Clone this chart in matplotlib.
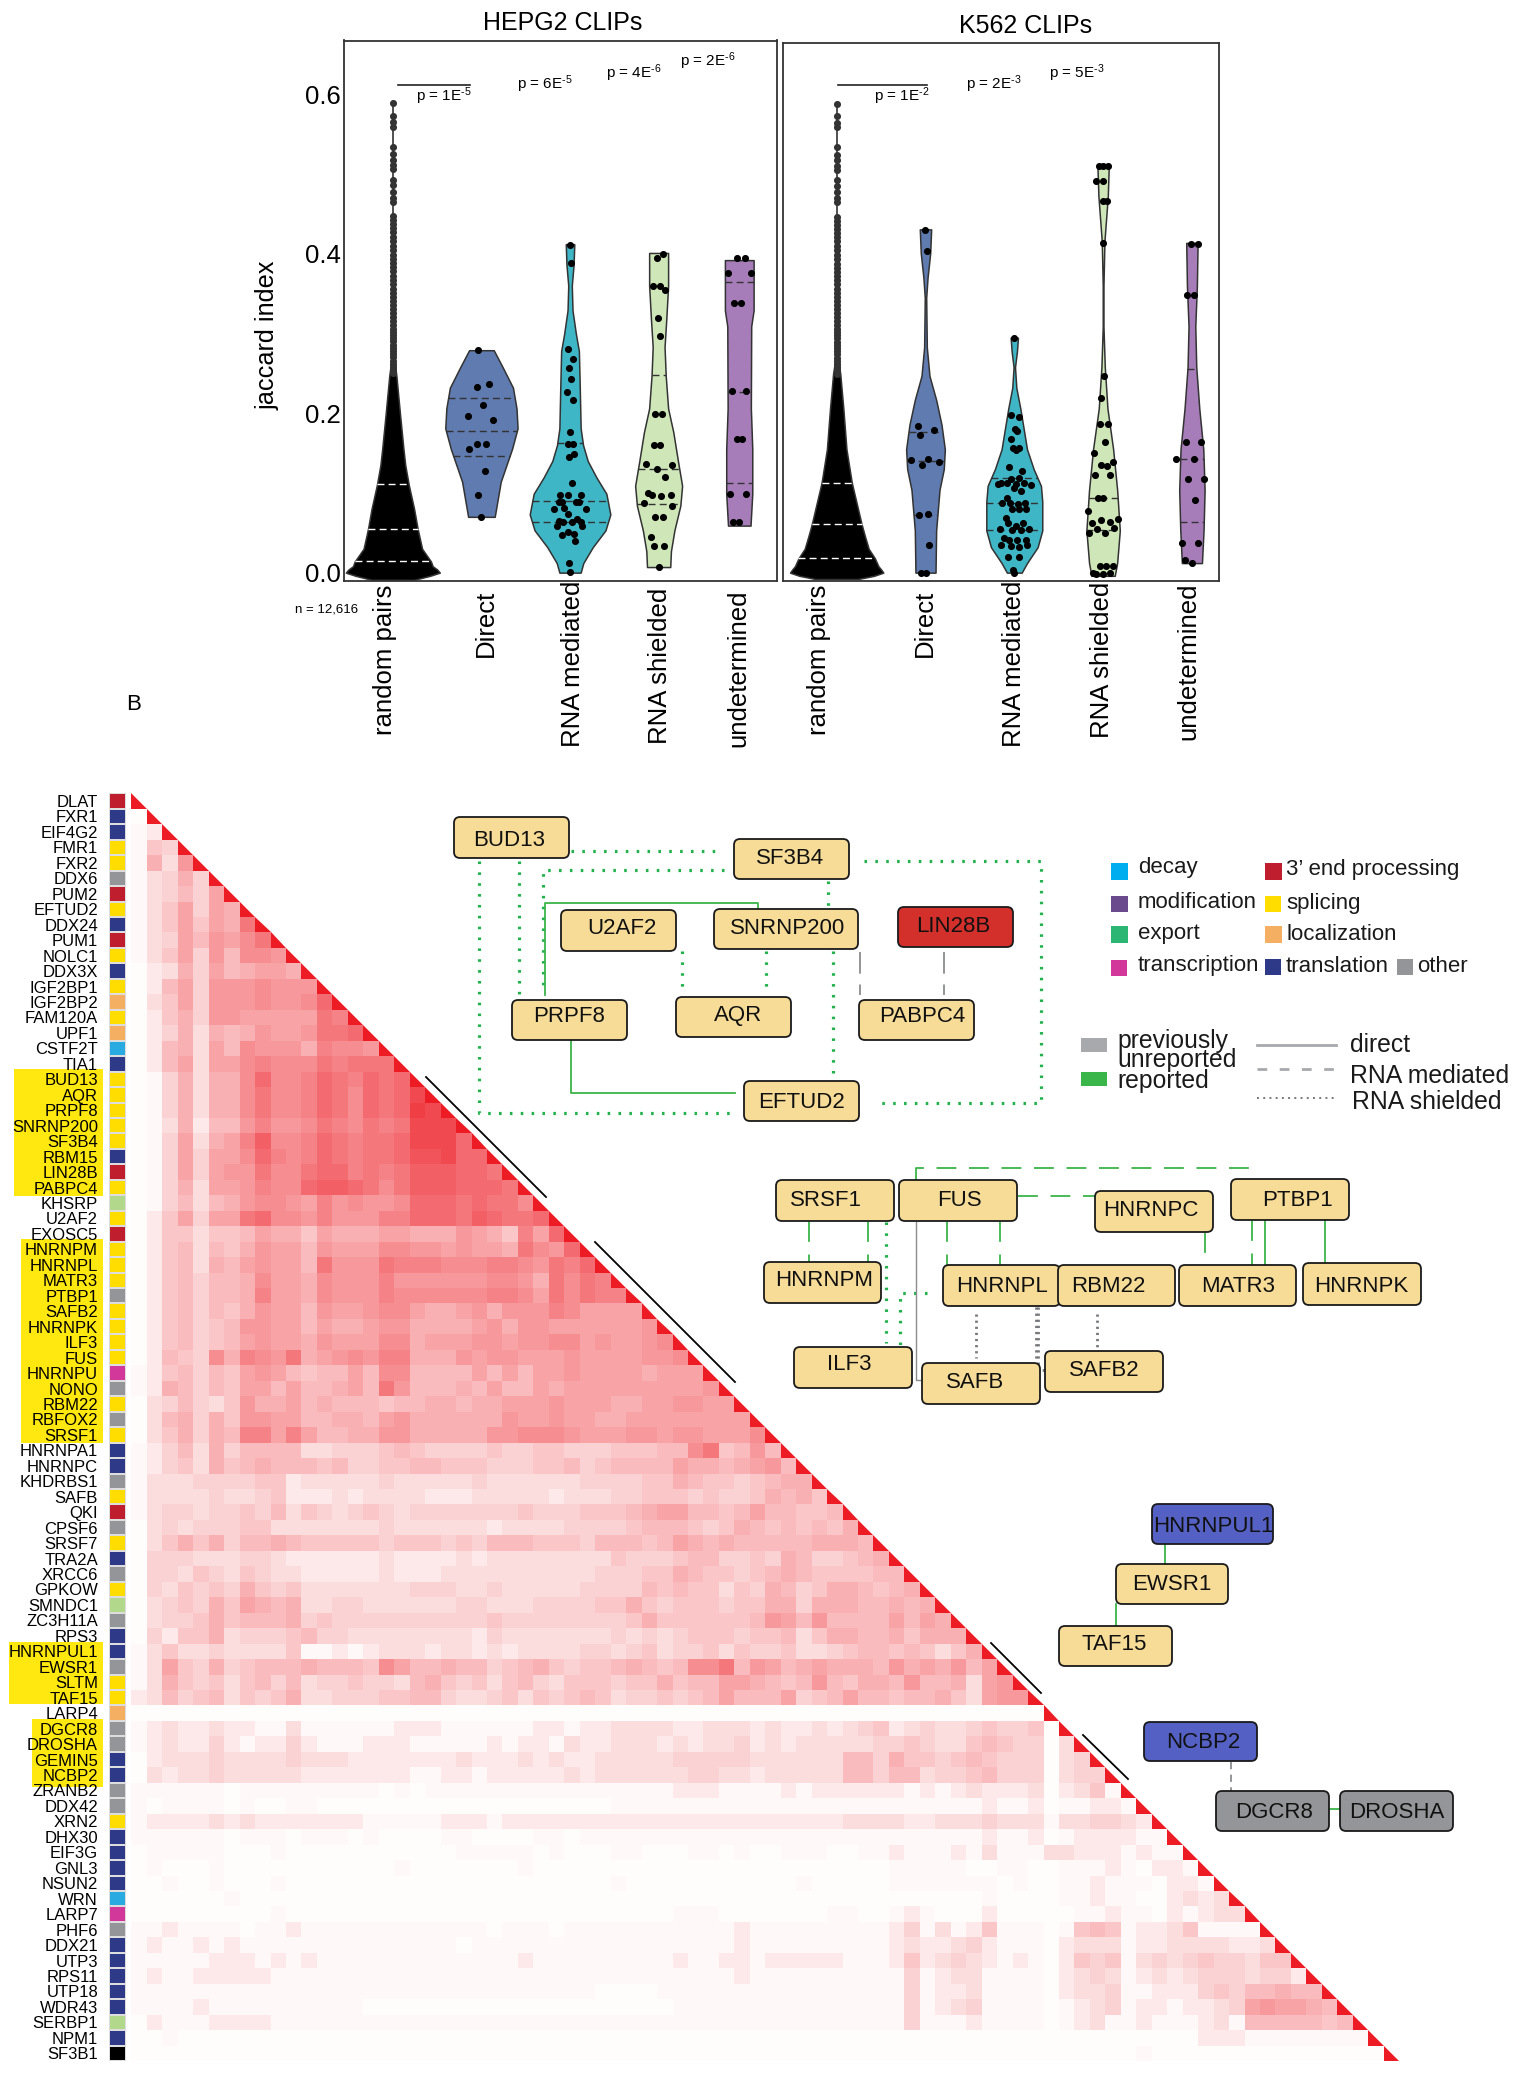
import numpy as np
import matplotlib
matplotlib.use('Agg')
import matplotlib.pyplot as plt
from matplotlib.colors import LinearSegmentedColormap, ListedColormap
from matplotlib.patches import FancyBboxPatch, Polygon, Rectangle

plt.rcParams['font.family'] = ['Liberation Sans', 'DejaVu Sans']
plt.rcParams['mathtext.default'] = 'regular'

W, H = 1525, 2100

# ---- violins: outline (y, half width), quartiles, points ----
cats = ['random pairs', 'Direct', 'RNA mediated', 'RNA shielded', 'undetermined']

rand_tail = [.589, .573, .565, .559, .534, .525, .518, .511, .506, .493, .486, .478, .470, .465,
             .447, .442, .437, .432, .427, .421, .416, .410, .405, .399, .394, .388, .383, .378,
             .372, .367, .362, .356, .351, .346, .341, .336, .331, .326, .321, .316, .311, .306,
             .302, .298, .294, .290, .286, .282, .278, .274, .270, .266, .262, .258, .254, .250]

hep_rand_y = [-.009, -.004, 0, .004, .008, .014, .03, .045, .055, .08, .09, .11, .135, .155, .2, .247, .27]
hep_rand_w = [.24, .42, .53, .50, .45, .43, .33, .30, .28, .24, .22, .18, .14, .12, .08, .04, .012]
hep_rand_q = [.015, .055, .111]

hep_dir_y = [.279, .258, .232, .206, .181, .155, .146, .114, .07]
hep_dir_w = [.139, .238, .356, .396, .408, .345, .317, .218, .15]
hep_dir_q = [.219, .178, .146]
hep_dir_px = [-.04, -.05, .09, .02, -.15, .127, -.048, .05, -.143, .044, -.04, 0]
hep_dir_py = [.279, .233, .236, .210, .197, .192, .161, .161, .155, .127, .097, .070]

hep_med_y = [.412, .386, .36, .329, .299, .278, .232, .181, .16, .14, .119, .099, .073, .053, .032, .012, 0]
hep_med_w = [.048, .04, .02, .028, .067, .10, .11, .12, .147, .2, .3, .41, .455, .4, .257, .15, .12]
hep_med_q = [.162, .09, .064]
hep_med_px = [0, .01, -.02, .03, -.016, .008, -.03, .036, 0, -.028, .032, .04, -.008, .02, -.115, -.02, .123,
              -.119, -.087, .063, .103, -.178, -.067, .178, -.028, -.127, -.075, .024, .083, .119, -.147,
              .139, -.028, -.091, .04, .051, -.012, .004]
hep_med_py = [.411, .388, .280, .268, .257, .243, .227, .217, .176, .161, .161, .149, .145, .113, .097, .097,
              .097, .089, .088, .089, .089, .080, .081, .080, .073, .065, .064, .064, .067, .063, .058, .058,
              .051, .047, .049, .040, .012, .001]

hep_shi_y = [.401, .36, .319, .283, .247, .206, .176, .14, .109, .084, .053, .027, .007]
hep_shi_w = [.107, .107, .087, .067, .08, .107, .166, .218, .265, .245, .178, .139, .131]
hep_shi_q = [.248, .13, .086]
hep_shi_px = [.051, -.016, -.067, .02, .075, -.008, .02, -.04, .04, -.051, .012, -.143, .147, -.016, .075,
              -.119, -.071, .032, .135, -.162, .15, -.04, .051, -.087, -.048, .059, .004]
hep_shi_py = [.400, .395, .359, .359, .355, .319, .297, .199, .199, .160, .160, .136, .135, .130, .120, .100,
              .097, .096, .097, .087, .084, .070, .070, .045, .033, .033, .007]

hep_und_y = [.392, .329, .309, .206, .155, .099, .059]
hep_und_w = [.162, .162, .135, .131, .147, .147, .127]
hep_und_q = [.365, .227, .113]
hep_und_px = [-.02, .067, -.127, .131, -.059, .016, -.087, .075, -.028, .032, -.107, .071, -.067, 0]
hep_und_py = [.395, .395, .376, .376, .338, .338, .228, .228, .168, .168, .099, .099, .063, .063]

k_rand_y = [-.008, -.004, 0, .004, .008, .018, .03, .045, .061, .08, .113, .155, .206, .25, .27]
k_rand_w = [.24, .42, .525, .50, .47, .43, .36, .32, .28, .24, .17, .11, .075, .04, .012]
k_rand_q = [.018, .061, .113]

k_dir_y = [.431, .401, .37, .345, .283, .247, .217, .186, .155, .13, .104, .053, 0]
k_dir_w = [.064, .053, .023, .008, .015, .045, .12, .18, .218, .206, .158, .12, .113]
k_dir_q = [.177, .14, .072]
k_dir_px = [0, .019, -.083, .098, -.06, -.165, .026, .15, -.041, -.068, .03, .041, -.049, .004]
k_dir_py = [.430, .404, .184, .179, .173, .142, .143, .139, .135, .072, .074, .035, 0, 0]

k_med_y = [.295, .278, .258, .232, .206, .181, .155, .13, .109, .089, .053, .032, .012, 0]
k_med_w = [.041, .03, .008, .023, .068, .105, .143, .218, .3, .315, .315, .263, .143, .083]
k_med_q = [.119, .087, .053]
k_med_px = [0, -.041, .053, .008, .034, -.038, -.019, .053, .019, -.060, .090, -.188, -.154, -.086, -.034, .053,
            .109, .191, .015, -.004, .079, -.086, -.135, -.049, .041, .116, -.023, .053, .135, -.094, -.068,
            .015, .098, -.161, -.023, .079, .165, -.116, -.064, .026, .128, -.150, -.034, .053, .139, -.068,
            .053, -.015, 0]
k_med_py = [.294, .198, .195, .180, .178, .168, .156, .157, .154, .133, .128, .111, .113, .113, .118, .119,
            .113, .110, .111, .106, .102, .094, .087, .088, .086, .088, .080, .080, .080, .069, .062, .059,
            .062, .055, .053, .053, .055, .043, .041, .041, .041, .035, .033, .032, .035, .020, .020, .003, 0]

k_shi_y = [.511, .473, .416, .36, .309, .258, .206, .155, .104, .053, .012, -.004]
k_shi_w = [.064, .053, .015, .004, .004, .019, .049, .113, .158, .188, .158, .131]
k_shi_q = [.186, .094, .053]
k_shi_px = [-.041, 0, .053, -.075, 0, 0, .041, 0, .015, -.026, -.03, .053, .019, -.101, -.023, .041, .109, -.09,
            .075, -.06, 0, -.169, -.124, -.023, .075, .173, -.068, .026, .128, -.161, -.038, .038, .113, -.116,
            -.075, 0, .075]
k_shi_py = [.510, .510, .510, .492, .492, .467, .467, .414, .247, .219, .186, .186, .164, .150, .135, .134, .139,
            .122, .122, .094, .094, .077, .062, .066, .063, .067, .055, .050, .056, .050, .008, .008, .008, 0,
            -.002, -.002, 0]

k_und_y = [.414, .36, .309, .258, .206, .155, .104, .053, .012]
k_und_w = [.064, .056, .038, .049, .083, .128, .143, .131, .113]
k_und_q = [.256, .143, .064]
k_und_px = [-.011, .071, -.056, .026, -.064, .098, -.176, .019, -.049, .139, .034, -.113, .071, -.075, -.004]
k_und_py = [.413, .413, .348, .348, .164, .164, .143, .143, .118, .118, .091, .037, .037, .016, .012]

viol_colors = ['black', '#5F7BAF', '#3FB6C6', '#CEE6B8', '#A77DB9']

# ---- heatmap: one string per row, letter = level / 20 ----
genes = ['DLAT', 'FXR1', 'EIF4G2', 'FMR1', 'FXR2', 'DDX6', 'PUM2', 'EFTUD2', 'DDX24', 'PUM1', 'NOLC1', 'DDX3X',
         'IGF2BP1', 'IGF2BP2', 'FAM120A', 'UPF1', 'CSTF2T', 'TIA1', 'BUD13', 'AQR', 'PRPF8', 'SNRNP200', 'SF3B4',
         'RBM15', 'LIN28B', 'PABPC4', 'KHSRP', 'U2AF2', 'EXOSC5', 'HNRNPM', 'HNRNPL', 'MATR3', 'PTBP1', 'SAFB2',
         'HNRNPK', 'ILF3', 'FUS', 'HNRNPU', 'NONO', 'RBM22', 'RBFOX2', 'SRSF1', 'HNRNPA1', 'HNRNPC', 'KHDRBS1',
         'SAFB', 'QKI', 'CPSF6', 'SRSF7', 'TRA2A', 'XRCC6', 'GPKOW', 'SMNDC1', 'ZC3H11A', 'RPS3', 'HNRNPUL1',
         'EWSR1', 'SLTM', 'TAF15', 'LARP4', 'DGCR8', 'DROSHA', 'GEMIN5', 'NCBP2', 'ZRANB2', 'DDX42', 'XRN2',
         'DHX30', 'EIF3G', 'GNL3', 'NSUN2', 'WRN', 'LARP7', 'PHF6', 'DDX21', 'UTP3', 'RPS11', 'UTP18', 'WDR43',
         'SERBP1', 'NPM1', 'SF3B1']

gene_class = ['end', 'tra', 'tra', 'spl', 'spl', 'oth', 'end', 'spl', 'tra', 'end', 'spl', 'tra',
              'spl', 'loc', 'spl', 'loc', 'dec', 'tra', 'spl', 'spl', 'spl', 'spl', 'spl',
              'tra', 'end', 'spl', 'lgr', 'spl', 'end', 'spl', 'spl', 'spl', 'oth', 'spl',
              'spl', 'spl', 'spl', 'scr', 'oth', 'spl', 'oth', 'spl', 'tra', 'tra', 'oth',
              'spl', 'end', 'oth', 'spl', 'tra', 'oth', 'spl', 'lgr', 'oth', 'tra', 'tra',
              'oth', 'spl', 'spl', 'loc', 'oth', 'oth', 'tra', 'tra', 'oth', 'oth', 'spl',
              'tra', 'tra', 'tra', 'tra', 'dec', 'scr', 'oth', 'tra', 'tra', 'tra', 'tra', 'tra',
              'lgr', 'tra', 'blk']

class_colors = {'dec': '#29ABE2', 'end': '#BE1E2D', 'spl': '#FFDD00', 'loc': '#F4AF63', 'tra': '#2E3A87',
                'oth': '#939598', 'scr': '#D2379A', 'lgr': '#B2D88C', 'blk': '#000000'}

heat_rows = [
    '',
    'a',
    'bc',
    'bfe',
    'bhdj',
    'bdehe',
    'bdegei',
    'bdfieih',
    'bdfifihm',
    'bdeigjikm',
    'bdfiejgkkj',
    'acdheighiih',
    'acgiejjjkjjj',
    'adfiejjjkjjkn',
    'acfhejjiiiiiml',
    'acehdhghjiijmmn',
    'acghdigkjjjhlkkj',
    'acgidiiklkkkmlmmm',
    'abehdhhknkklnmlnmn',
    'abehdhhkmkklnmknmnq',
    'abehdhhkmkklnmknmnrq',
    'abdhcggjljjkmlkmlmqqq',
    'abeidhilokklnmlmmnqqqn',
    'abeieiiknlklnmlmmnppqnn',
    'abeieijjmkkmnnlmlmooonnm',
    'abehdiijlkknoonmkmooonnnm',
    'abegdghjkkjiljkjjknnnmnmmk',
    'acfieiimnkkjljjjllnnnmonmmn',
    'acffdffgihhfihhhiihhhjihflin',
    'acfgdgfhjiigjiiikkjjijiihmkjn',
    'acfgdhgijiigmjjjmlllkkkllkjmln',
    'acfgegghkiihkjjjljjjjjjkkjhmkml',
    'acfgegghliihkjjjlkkkkkkllkimkmll',
    'acfgegfhjiigjiijkkihhijhjjjlk iiii',
    'acfgefgjjiigihhijjhhhhijhjjii iiiij',
    'acfgefgijiihjiiikkhiiijjijjkk ijiijk',
    'acgfekhlkjmhijkjllhhhjijjiiij iiiijjk',
    'bcfgegfijigfggigkkggggigigiij iiiihiii',
    'bchgegfiigigghigmjggghgiggihi iiiiiiiij',
    'adegedfjhhighgggfgghhghhiiiji iihhiijjii',
    'adghehfjjiigghhgijhhhhhhjiiji ihhiiiiiiii',
    'adfhehglliligghhjjhhhhhjjkkkj iiijjijjiiik',
    'bcegdheggg gddeeefgfe eeefeeffee efffggkmfg jg',
    'bcefdhfghg ggfgeeffgg fffeeeffge fggggihhgh ijg',
    'bdddeeeeff cdddddeddd ddedddddde eeeffhgffe fghh',
    'bddddeddef cccdcddddc ccdddddcdd deefffefee fhghf',
    'bdeedeefeg dfedefedee eeeeefeeef ffghiiggfg iggffg',
    'adedeeeffd ddddddeddd dddcddddee eefgggfefh gfgfgfh',
    'adfhfheggh gfffffefff efegggfffe gggfgihghg gggghhhg',
    'aeeedddeed ccccccdccc cdcddddddd dfeeefggee fehgeefgh',
    'aeedfedfed dcccccdccc dddddddddd eeeffhgffe fghgffffgg',
    'aedfefehfe fdddddddee eddeddddde eeegfgffdf ehgefhhgfgh',
    'adefehfihg hddeeddddd deedddeeee ffhfefffef fhhehhhgghgh',
    'adeefhfggg hefeeeeeee eeefeeeeee eefhffffff gjigjggggigih',
    'aecffhdeee fgeedddddd ddcedddddd dededefffe ffgdfhhgghfhhh',
    'bdfddedddd fbbcbcdddc ddcdcdddde edefdeefdf eefddefggf gfdfh',
    'bdifehefgg ghgggfkigg hggefghfef fghgfgkkmg jighihhhgj hihjgi',
    'bdhfefdfge gdeefeedgh fefdfgedff feffhfggii hgfgjgfhhg jgghdij',
    'cdgefgdfef hddeeeffgg eddefdfefg fdeefefgig ggiefgiggf gghfdijj',
    'aaaaaaaaaa aaaaaaaaaa aaaaaaaaaa aaaaaaaaaa aaaaaaaaaa aaaaaaaaa',
    'bcdccdccbb dbbbbbbccc bbbbbbccbc cddddccddd cdccdcdefc deddefeefa',
    'bcdccecbcc ecbbbcccbb bbbcbccbdc cdddcdcdde cdcdddddee feddfgfeea d',
    'acdddedddd edddcccccc cdcccdcdcc dddddeeeee ddddddggeh ffefgfeeea de',
    'adcddedddd dcccccccbb ccbcccccdc ddddddeedd cdddddggeg gdeefgeeea dee',
    'bbbbbbabbb bbbbbbabab bbbbbbbbbb bbbbbcccbb bbcbcccccc bcbcdcccda cdfb',
    'babbbbabaa bbaaaaaaaa aaaaaaaaaa abbbbbbbbb bbbbbbbbbb bbbbbcbbca bbccb',
    'bccccdcdcc cccccbbbbb cccbcccccc cccccccccc ccccccdddd ccdddedddb ddeedc',
    'bbbbbbabbb abbbabaaaa bbaaaabbab bbbbbbbbbb bbbbbbbbbb bbbbbcbbca bccccbb',
    'abbbbbaaab aaaaaaaaaa abbbbbabaa abbaaabbab aabbbaabbc bbbcbdbbbd dcccbcbb',
    'abaaabaaaa aaaaaaabaa aaaaabaaaa aaaaaaaaaa aaaaaaaaab bbbbaabbaa bbbcbaccb',
    'aabaabaaab aaaaaaaaaa aaaaaaaaaa abaaaaaaaa aaabaaaaab bbbbbbabaa bbcbbbaccb',
    'aaaaaabaaa aaaaaaaaaa aaaaaaaaaa aaaaaaaaaa aaaaaaaaaa aaaaabaaaa bbcbbaacdcd',
    'aaaaaaaaab aaaaaaaaaa aaaaaaaaaa aaaaabbbaa aaaaabbaab cbaaacaaaa abbcbbacbcdd',
    'bbcbbbbabb cbbbbbbbbb bbbabbbabb bbbbbbbbbc bbbbbbbbbc ebdbcfbbba bfgfbccdfb bbb',
    'bcbbcbcbbb bbbbbbbbbb babbbbbbbb bbbbbbbbbc bbbbbbbbbc dccdecbbba cdddbccddd dccd',
    'bbbbbcccbc bcbbbbbbbb bbbbbcbbbb bbbbbcbbcc bcccccbbbc fcdedcbcba cfefbdedef eedff',
    'bcbbcccccb bbbbbbbbbb bbbbbbbbbb bbbbbbbbbc bbbbbbbbbb ebcddbbbba cdedbcdcde eedeec',
    'bbbbbbbbbb bbbbbbbbbb bbbbbbbbbb aaaabbbbbb bbbbbbbbbb ebccdbbbba cddebbcccef egghgg',
    'bbbbcbbbbb bbbbbaaaaa aaaaaaaaaa aaaaabbbbb bbbbbbbbbb ebcdebbbba bcdebccbcc deijiihg',
    'acbbbccccb bbbbbbbbbb bbbbbbbbbb bbbbbbbbbb bbbbbbbbbb ebbbcbbbba bcdbbcbbbc dbgggggfg',
    'aabaaaaaaa aaaaaaaaaa aaaaaaaaaa aaaaaaaaaa aaaaaaaaaa aaaaaaaaaa aaaaaaaaac ccbbbbbbbb',
    'aaaaaaaaaa aaaaaaaaaa aaaaaaaaaa aaaaaaaaaa aaaaaaaaaa aaaaaaaaaa aaaaabaaaa aaaaaaaaaa a',
]
# the two palest letters are finer than the 1/20 steps of the rest
pale_levels = {'a': 0.012, 'b': 0.035}

# ---- network diagrams (pixel layout, no scale behind them) ----
TAN, RED, BLUE, GREY = '#F6DC96', '#D32F2B', '#5460C4', '#939598'
nodes = [  # name, left, top, right, bottom, text x, text y, fill
    ('BUD13', 454, 817, 569, 858, 509, 840, TAN), ('SF3B4', 734, 839, 849, 879, 790, 859, TAN),
    ('U2AF2', 561, 910, 676, 951, 622, 929, TAN), ('SNRNP200', 714, 909, 858, 949, 788, 929, TAN),
    ('LIN28B', 898, 907, 1013, 947, 953, 926, RED), ('PRPF8', 512, 1000, 627, 1040, 569, 1016, TAN),
    ('AQR', 676, 997, 791, 1037, 738, 1016, TAN), ('PABPC4', 859, 1000, 974, 1040, 922, 1016, TAN),
    ('EFTUD2', 744, 1081, 859, 1121, 802, 1102, TAN),
    ('SRSF1', 776, 1180, 894, 1221, 826, 1201, TAN), ('FUS', 899, 1180, 1017, 1221, 959, 1201, TAN),
    ('HNRNPC', 1095, 1191, 1213, 1232, 1151, 1211, TAN), ('PTBP1', 1231, 1179, 1349, 1220, 1297, 1201, TAN),
    ('HNRNPM', 764, 1262, 881, 1303, 824, 1281, TAN), ('HNRNPL', 943, 1265, 1060, 1306, 1002, 1286, TAN),
    ('RBM22', 1058, 1265, 1175, 1306, 1108, 1286, TAN), ('MATR3', 1179, 1265, 1296, 1306, 1238, 1287, TAN),
    ('HNRNPK', 1303, 1263, 1421, 1305, 1361, 1286, TAN), ('ILF3', 794, 1347, 912, 1388, 849, 1365, TAN),
    ('SAFB', 922, 1363, 1040, 1404, 975, 1382, TAN), ('SAFB2', 1045, 1351, 1163, 1392, 1104, 1371, TAN),
    ('HNRNPUL1', 1152, 1504, 1273, 1544, 1213, 1526, BLUE), ('EWSR1', 1116, 1564, 1228, 1604, 1172, 1584, TAN),
    ('TAF15', 1059, 1626, 1172, 1666, 1114, 1645, TAN), ('NCBP2', 1144, 1722, 1257, 1761, 1203, 1742, BLUE),
    ('DGCR8', 1216, 1791, 1329, 1831, 1274, 1812, GREY), ('DROSHA', 1340, 1791, 1453, 1831, 1397, 1812, GREY),
]

green_dotted = [
    [(571, 851), (722, 851)], [(479, 861), (479, 1113), (735, 1113)], [(519, 861), (519, 997)],
    [(724, 870), (543, 870), (543, 992)], [(828, 881), (828, 907)],
    [(864, 861), (1041, 861), (1041, 1103), (881, 1103)], [(682, 951), (682, 994)], [(766, 951), (766, 994)],
    [(833, 951), (833, 1080)], [(886, 1222), (886, 1343)], [(927, 1293), (900, 1293), (900, 1346)],
]
green_solid = [
    [(545, 995), (545, 903), (758, 903), (758, 908)], [(571, 1041), (571, 1093), (735, 1093)],
    [(1265, 1221), (1265, 1265)], [(1325, 1221), (1325, 1263)], [(1165, 1544), (1165, 1563)],
    [(1116, 1604), (1116, 1626)], [(1329, 1809), (1340, 1809)],
]
green_dashed = [
    [(916, 1180), (916, 1168), (1250, 1168), (1250, 1171)], [(1018, 1196), (1095, 1196)],
    [(809, 1222), (809, 1262)], [(868, 1222), (868, 1262)], [(947, 1222), (947, 1265)], [(1000, 1222), (1000, 1265)],
    [(1205, 1233), (1205, 1265)], [(1252, 1221), (1252, 1265)],
]
grey_dashed = [[(860, 952), (860, 995)], [(944, 952), (944, 995)]]
grey_short_dashed = [[(1231, 1762), (1231, 1797)]]
grey_dotted = [[(976, 1314), (976, 1358)], [(1036, 1307), (1036, 1362)], [(1038, 1307), (1038, 1370), (1045, 1370)],
               [(1097, 1314), (1097, 1350)]]
grey_solid = [[(916, 1222), (916, 1380), (922, 1380)]]

# black bars beside the triangle
bars = [[(426, 1077), (546, 1197)], [(595, 1242), (735, 1382)], [(991, 1643), (1041, 1693)], [(1083, 1735), (1128, 1779)]]

legend_sq = [
    ('decay', 1111, 863, 1128, 880, 1138, 868, '#00AEEF'), ('modification', 1111, 896, 1128, 912, 1138, 903, '#6A4A8C'),
    ('export', 1111, 926, 1128, 943, 1138, 933, '#2BB673'), ('transcription', 1111, 960, 1127, 976, 1138, 965, '#D2379A'),
    ('3’ end processing', 1265, 863, 1282, 880, 1286, 869, '#BE1E2D'), ('splicing', 1265, 896, 1281, 912, 1286, 903, '#FFDD00'),
    ('localization', 1265, 926, 1282, 943, 1286, 934, '#F4AF63'), ('translation', 1265, 959, 1281, 975, 1286, 966, '#2E3A87'),
    ('other', 1397, 959, 1413, 975, 1417, 967, '#939598'),
]


def px_axes(fig, left, top, right, bottom):
    return fig.add_axes([left / W, 1 - bottom / H, (right - left) / W, (bottom - top) / H])


def violin(ax, pos, y, w, color, quarts, qcolor='#333333'):
    y = np.array(y)
    w = np.array(w)
    ax.fill_betweenx(y, pos - w, pos + w, facecolor=color, edgecolor='#333333', linewidth=1.1, joinstyle='round')
    for q in quarts:
        hw = np.interp(q, y[::-1], w[::-1])
        ax.plot([pos - hw, pos + hw], [q, q], color=qcolor, lw=1.0, ls=(0, (5, 3)))


def rand_tail_pts(ax, pos):
    ax.plot([pos, pos], [.25, .589], color='#333333', lw=1.2)
    ax.scatter([pos] * len(rand_tail), rand_tail, s=26, color='#333333', linewidths=0, zorder=3)


fig = plt.figure(figsize=(W / 100, H / 100), dpi=100, facecolor='white')

over = px_axes(fig, 0, 0, W, H)
over.set_xlim(0, W)
over.set_ylim(H, 0)
over.axis('off')
over.set_zorder(-1)

top = fig.add_axes([0, 0, 1, 1])
top.set_xlim(0, W)
top.set_ylim(H, 0)
top.axis('off')
top.set_zorder(5)

# ---- violins ----
ax1 = px_axes(fig, 344, 40.5, 777, 581)
ax1.set_xlim(-0.551, 4.336)
ax1.set_ylim(-0.0105, 0.6675)
ax2 = px_axes(fig, 783.3, 43, 1219, 581)
ax2.set_xlim(-0.601, 4.305)
ax2.set_ylim(-0.0105, 0.665)

hep_pos = [0, 1, 2, 3, 3.91]
k_pos = [0, 1, 2, 3, 4]

rand_tail_pts(ax1, hep_pos[0])
violin(ax1, hep_pos[0], hep_rand_y[::-1], hep_rand_w[::-1], 'black', hep_rand_q, 'white')
violin(ax1, hep_pos[1], hep_dir_y, hep_dir_w, viol_colors[1], hep_dir_q)
violin(ax1, hep_pos[2], hep_med_y, hep_med_w, viol_colors[2], hep_med_q)
violin(ax1, hep_pos[3], hep_shi_y, hep_shi_w, viol_colors[3], hep_shi_q)
violin(ax1, hep_pos[4], hep_und_y, hep_und_w, viol_colors[4], hep_und_q)
for p, xs, ys in zip(hep_pos[1:], [hep_dir_px, hep_med_px, hep_shi_px, hep_und_px],
                     [hep_dir_py, hep_med_py, hep_shi_py, hep_und_py]):
    ax1.scatter(np.array(xs) + p, ys, s=26, color='black', linewidths=0, zorder=4)

rand_tail_pts(ax2, k_pos[0])
violin(ax2, k_pos[0], k_rand_y[::-1], k_rand_w[::-1], 'black', k_rand_q, 'white')
violin(ax2, k_pos[1], k_dir_y, k_dir_w, viol_colors[1], k_dir_q)
violin(ax2, k_pos[2], k_med_y, k_med_w, viol_colors[2], k_med_q)
violin(ax2, k_pos[3], k_shi_y, k_shi_w, viol_colors[3], k_shi_q)
violin(ax2, k_pos[4], k_und_y, k_und_w, viol_colors[4], k_und_q)
for p, xs, ys in zip(k_pos[1:], [k_dir_px, k_med_px, k_shi_px, k_und_px],
                     [k_dir_py, k_med_py, k_shi_py, k_und_py]):
    ax2.scatter(np.array(xs) + p, ys, s=26, color='black', linewidths=0, zorder=4)

for a in (ax1, ax2):
    a.set_facecolor('none')
    a.set_xticks([])
    for s in a.spines.values():
        s.set_linewidth(1.3)
        s.set_color('#333333')
ax1.set_yticks([0, .2, .4, .6])
ax1.set_yticklabels(['0.0', '0.2', '0.4', '0.6'], fontsize=18.5)
ax1.tick_params(axis='y', length=0, pad=2)
ax2.set_yticks([])

top.text(563, 23, 'HEPG2 CLIPs', fontsize=18, ha='center', va='center')
top.text(1026, 26, 'K562 CLIPs', fontsize=18, ha='center', va='center')
top.text(268, 335, 'jaccard index', fontsize=18.2, rotation=90, ha='center', va='center')
top.text(327, 609, 'n = 12,616', fontsize=9.5, ha='center', va='center')
top.text(134, 705, 'B', fontsize=16, ha='center', va='center')

for name, x, y in zip(cats, [385, 486, 573, 660, 738], [660, 623, 664, 666, 668]):
    top.text(x, y, name, fontsize=18.5, rotation=90, ha='center', va='center')
for name, x, y in zip(cats, [819, 925, 1014, 1102, 1188], [660, 623, 664, 660, 661]):
    top.text(x, y, name, fontsize=18.5, rotation=90, ha='center', va='center')

# exponent written with a hyphen glyph, not the long math minus
p_vals = [(444, 96, '1E', '5'), (545, 84, '6E', '5'), (634, 73, '4E', '6'), (708, 61, '2E', '6'),
          (902, 96, '1E', '2'), (994, 84, '2E', '3'), (1077, 73, '5E', '3')]
for x, y, m, e in p_vals:
    top.text(x, y, 'p = %s$^{\u2010%s}$' % (m, e), fontsize=11, ha='center', va='center')
top.plot([398, 470], [85, 85], color='#222222', lw=1.2)
top.plot([838, 927], [85, 85], color='#222222', lw=1.2)

# ---- heatmap ----
n = len(genes)
CELL = 15.46
hx0, hy0 = 131.4, 793.3
heat_ax = px_axes(fig, hx0, hy0, hx0 + n * CELL, hy0 + n * CELL)
mat = np.full((n, n), np.nan)
for r, row in enumerate(heat_rows):
    row = row.replace(' ', '').ljust(r, 'a')[:r]
    for c, ch in enumerate(row):
        mat[r, c] = pale_levels.get(ch, (ord(ch) - ord('a')) / 20)
cmap = LinearSegmentedColormap.from_list('wr', ['#FFFFFF', '#ED1C24'])
edges = np.arange(n + 1)
heat_ax.pcolormesh(edges, edges, np.ma.masked_invalid(mat), cmap=cmap, vmin=0, vmax=1,
                   edgecolors='none', antialiased=False)
for i in range(n):
    heat_ax.add_patch(Polygon([(i, i), (i, i + 1), (i + 1, i + 1)], closed=True, facecolor='#ED1C24', edgecolor='none'))
heat_ax.set_xlim(0, n)
heat_ax.set_ylim(n, 0)
heat_ax.axis('off')

strip_ax = px_axes(fig, 109, hy0, 126.4, hy0 + n * CELL)
class_keys = list(class_colors)
strip = np.array([[class_keys.index(k)] for k in gene_class])
strip_ax.pcolormesh([0, 1], edges, strip, cmap=ListedColormap([class_colors[k] for k in class_keys]),
                    vmin=-0.5, vmax=len(class_keys) - 0.5, edgecolors='#DDDDDD', linewidth=0.3)
strip_ax.set_xlim(0, 1)
strip_ax.set_ylim(n, 0)
strip_ax.set_xticks([])
strip_ax.set_yticks(np.arange(n) + 0.5)
strip_ax.set_yticklabels(genes, fontsize=12)
strip_ax.tick_params(axis='y', length=0, pad=7.9)
for s in strip_ax.spines.values():
    s.set_visible(False)

# yellow blocks behind the gene labels
for l, t, r, b in [(13.6, 1069, 103, 1196), (20.7, 1239, 103, 1443), (8.6, 1642, 103, 1704), (32, 1719, 103, 1787)]:
    over.add_patch(Rectangle((l, t), r - l, b - t, facecolor='#FFE80F', edgecolor='none'))

for seg in bars:
    xs, ys = zip(*seg)
    top.plot(xs, ys, color='black', lw=1.3)


def draw_lines(segs, **kw):
    for seg in segs:
        xs, ys = zip(*seg)
        over.plot(xs, ys, solid_joinstyle='round', **kw)


draw_lines(green_dotted, color='#22B14C', lw=2.3, ls=(0, (0.8, 2.6)))
draw_lines(green_solid, color='#3BB44A', lw=1.3)
draw_lines(green_dashed, color='#3BB44A', lw=1.3, ls=(0, (11, 7)))
draw_lines(grey_dashed, color='#8A8C8E', lw=1.3, ls=(0, (12, 6)))
draw_lines(grey_short_dashed, color='#8A8C8E', lw=1.3, ls=(0, (4, 3)))
draw_lines(grey_dotted, color='#77787B', lw=2.0, ls=(0, (0.8, 1.4)))
draw_lines(grey_solid, color='#8A8C8E', lw=1.0)

for name, l, t, r, b, tx, ty, col in nodes:
    top.add_patch(FancyBboxPatch((l, t), r - l, b - t, boxstyle='round,pad=0,rounding_size=6',
                                 facecolor=col, edgecolor='#1A1A1A', linewidth=1.3))
    top.text(tx, ty, name, fontsize=16, ha='center', va='center', color='#111111')

# ---- legends ----
for name, l, t, r, b, tx, ty, col in legend_sq:
    over.add_patch(Rectangle((l, t), r - l, b - t, facecolor=col, edgecolor='none'))
    top.text(tx, ty, name, fontsize=16, ha='left', va='center', color='#1A1A1A')

over.add_patch(Rectangle((1081, 1038), 26, 14, facecolor='#A7A9AC', edgecolor='none'))
over.add_patch(Rectangle((1081, 1072), 26, 14, facecolor='#39B54A', edgecolor='none'))
for name, y in zip(['previously', 'unreported', 'reported'], [1041, 1060, 1081]):
    top.text(1117, y, name, fontsize=17.8, ha='left', va='center', color='#1A1A1A')

over.plot([1257, 1336], [1045, 1045], color='#A7A9AC', lw=2.0)
over.plot([1257, 1336], [1069, 1069], color='#A7A9AC', lw=2.0, ls=(0, (3.5, 4.5)))
over.plot([1257, 1337], [1098, 1098], color='#77787B', lw=1.4, ls=(0, (1, 2.2)))
for name, x, y in zip(['direct', 'RNA mediated', 'RNA shielded'], [1350, 1350, 1352], [1045, 1076, 1102]):
    top.text(x, y, name, fontsize=17.8, ha='left', va='center', color='#1A1A1A')

fig.savefig('out.png', dpi=100)
